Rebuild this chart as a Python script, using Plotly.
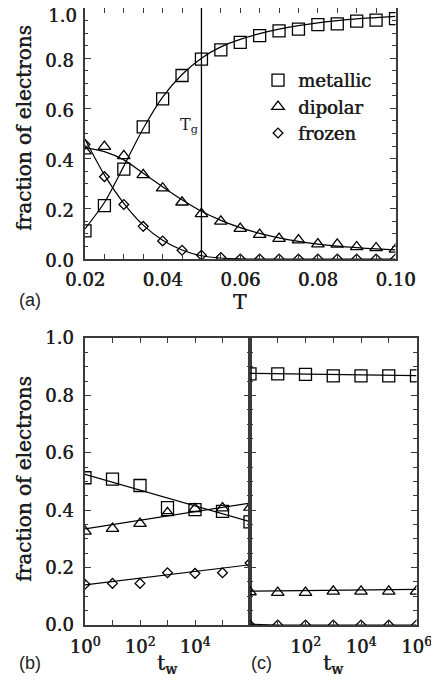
import plotly.graph_objects as go

# page body has an 8px default margin, so the figure is drawn 8px in from the top-left
OFF = 8
W, H = 439 - OFF, 685 - OFF

# ---------------- data: panel (a) ----------------
T = [0.020, 0.025, 0.030, 0.035, 0.040, 0.045, 0.050, 0.055, 0.060,
     0.065, 0.070, 0.075, 0.080, 0.085, 0.090, 0.095, 0.100]
metallic = [0.112, 0.213, 0.358, 0.526, 0.638, 0.731, 0.796, 0.833, 0.863,
            0.890, 0.909, 0.916, 0.934, 0.937, 0.948, 0.952, 0.958]
dipolar = [0.430, 0.448, 0.411, 0.335, 0.282, 0.226, 0.180, 0.150, 0.121,
           0.097, 0.081, 0.075, 0.059, 0.058, 0.048, 0.044, 0.038]
frozen = [0.457, 0.328, 0.217, 0.130, 0.072, 0.035, 0.015, 0.006, 0.0,
          0.0, 0.0, 0.0, 0.0, 0.0, 0.0, 0.0, 0.0]
metallic_fit = [0.120, 0.225, 0.370, 0.520, 0.645, 0.735, 0.800, 0.845, 0.875,
                0.898, 0.916, 0.930, 0.941, 0.950, 0.957, 0.962, 0.967]
dipolar_fit = [0.444, 0.428, 0.395, 0.342, 0.288, 0.236, 0.190, 0.154, 0.125,
               0.102, 0.084, 0.070, 0.059, 0.051, 0.045, 0.040, 0.036]
frozen_fit = [0.477, 0.335, 0.222, 0.135, 0.075, 0.036, 0.013, 0.004, 0.001,
              0.0, 0.0, 0.0, 0.0, 0.0, 0.0, 0.0, 0.0]
T_G = 0.05
TG_LABEL_Y = 0.53

# ---------------- data: panels (b), (c) ----------------
tw = [1, 10, 100, 1e3, 1e4, 1e5, 1e6]
b_metallic = [0.513, 0.508, 0.486, 0.409, 0.402, 0.396, 0.359]
b_dipolar = [0.326, 0.336, 0.353, 0.391, 0.405, 0.407, 0.409]
b_frozen = [0.142, 0.145, 0.145, 0.182, 0.180, 0.182, 0.216]
tw_fit = [1, 1e6]
b_metallic_fit = [0.525, 0.360]
b_dipolar_fit = [0.335, 0.425]
b_frozen_fit = [0.140, 0.210]

c_metallic = [0.875, 0.875, 0.873, 0.868, 0.868, 0.868, 0.868]
c_dipolar = [0.115, 0.113, 0.113, 0.117, 0.117, 0.117, 0.117]
c_frozen = [0.0, 0.0, 0.0, 0.0, 0.0, 0.0, 0.0]
c_metallic_fit = [0.877, 0.869]
c_dipolar_fit = [0.118, 0.124]
tw_fit_c_frozen = [1, 10, 1e6]
c_frozen_fit = [0.003, 0.0, 0.0]

names = ["metallic", "dipolar", "frozen"]
yticks = [0.0, 0.2, 0.4, 0.6, 0.8, 1.0]
ytick_text = ["0.0", "0.2", "0.4", "0.6", "0.8", "1.0"]
# top panel: the "1.0" label sits just below its tick so it stays on the page
ytick_text_a = ["0.0", "0.2", "0.4", "0.6", "0.8", ""]
YTOP_LABEL = 1.0
xticks_a = [0.02, 0.04, 0.06, 0.08, 0.10]
xtick_text_a = ["0.02", "0.04", "0.06", "0.08", "0.10"]
tw_ticks = [1, 10, 100, 1e3, 1e4, 1e5, 1e6]
tw_text_b = ["10<sup>0</sup>", "", "10<sup>2</sup>", "", "10<sup>4</sup>", "", ""]
tw_text_c = ["", "", "10<sup>2</sup>", "", "10<sup>4</sup>", "", "10<sup>6</sup>"]

# ---------------- style ----------------
SERIF = "DejaVu Serif"
SANS = "Liberation Sans"
AX = "#3a3a3a"
TXT = "#1e1e1e"
SHADOW = "0.6px 0px 0px #1e1e1e"
symbols = {"metallic": ("square-open", 12), "dipolar": ("triangle-up-open", 11),
           "frozen": ("diamond-open", 7.5)}


def px_x(p):
    return (p - OFF) / W


def px_y(p):
    return min(1.0, 1 - (p - OFF) / H)


fig = go.Figure()


def add_series(xa, ya, x, y, name, show):
    sym, size = symbols[name]
    fig.add_trace(go.Scatter(x=x, y=y, mode="markers", name=name, showlegend=show,
                             xaxis=xa, yaxis=ya,
                             marker=dict(symbol=sym, size=size, color="black",
                                         line=dict(color="black", width=1.3))))


def add_fit(xa, ya, x, y, spline=False):
    fig.add_trace(go.Scatter(x=x, y=y, mode="lines", showlegend=False,
                             xaxis=xa, yaxis=ya, hoverinfo="skip",
                             line=dict(color="black", width=1.2,
                                       shape="spline" if spline else "linear",
                                       smoothing=0.8 if spline else None)))


# panel (a)
add_fit("x", "y", T, metallic_fit, True)
add_fit("x", "y", T, dipolar_fit, True)
add_fit("x", "y", T, frozen_fit, True)
add_series("x", "y", T, metallic, "metallic", True)
add_series("x", "y", T, dipolar, "dipolar", True)
add_series("x", "y", T, frozen, "frozen", True)

# panel (b)
add_fit("x2", "y2", tw_fit, b_metallic_fit)
add_fit("x2", "y2", tw_fit, b_dipolar_fit)
add_fit("x2", "y2", tw_fit, b_frozen_fit)
add_series("x2", "y2", tw, b_metallic, "metallic", False)
add_series("x2", "y2", tw, b_dipolar, "dipolar", False)
add_series("x2", "y2", tw, b_frozen, "frozen", False)

# panel (c)
add_fit("x3", "y3", tw_fit, c_metallic_fit)
add_fit("x3", "y3", tw_fit, c_dipolar_fit)
add_fit("x3", "y3", tw_fit_c_frozen, c_frozen_fit)
add_series("x3", "y3", tw, c_metallic, "metallic", False)
add_series("x3", "y3", tw, c_dipolar, "dipolar", False)
add_series("x3", "y3", tw, c_frozen, "frozen", False)

tickfont = dict(family=SERIF, size=18, color=TXT, shadow=SHADOW)
common = dict(showline=True, linecolor=AX, linewidth=1.6, mirror="allticks",
              ticks="inside", tickcolor=AX, tickwidth=1.2, showgrid=False,
              zeroline=False, tickfont=tickfont, automargin=False,
              ticklabeloverflow="allow")
minor_y = dict(dtick=0.05, tick0=0.0, ticks="inside", ticklen=3.5,
               tickcolor=AX, tickwidth=1.2)

dom_top_y = [px_y(259), px_y(6)]
dom_bot_y = [px_y(625), px_y(338)]

fig.update_layout(
    width=W, height=H, margin=dict(l=0, r=0, t=0, b=0, autoexpand=False),
    plot_bgcolor="white", paper_bgcolor="white",
    showlegend=True,
    legend=dict(x=px_x(258), y=px_y(62), xanchor="left", yanchor="top",
                bgcolor="rgba(0,0,0,0)", borderwidth=0, tracegroupgap=0,
                font=dict(family=SERIF, size=18, color=TXT, shadow=SHADOW)),
    xaxis=dict(domain=[px_x(85), px_x(395.5)], range=[0.02, 0.10], anchor="y",
               tickvals=xticks_a, ticktext=xtick_text_a, ticklen=5,
               minor=dict(dtick=0.005, tick0=0.0, ticks="inside", ticklen=5,
                          tickcolor=AX, tickwidth=1.2),
               ticklabelstandoff=4, **common),
    yaxis=dict(domain=dom_top_y, range=[0, 1.0], anchor="x",
               tickvals=yticks, ticktext=ytick_text_a, ticklen=6,
               minor=minor_y, ticklabelstandoff=6, ticklabelshift=2, **common),
    xaxis2=dict(domain=[px_x(85), px_x(250)], type="log", range=[0, 6], anchor="y2",
                tickvals=tw_ticks, ticktext=tw_text_b, ticklen=5,
                ticklabelstandoff=5, **common),
    yaxis2=dict(domain=dom_bot_y, range=[0, 1.0], anchor="x2",
                tickvals=yticks, ticktext=ytick_text, ticklen=6,
                minor=minor_y, ticklabelstandoff=6, **common),
    xaxis3=dict(domain=[px_x(250), px_x(416.5)], type="log", range=[0, 6], anchor="y3",
                tickvals=tw_ticks, ticktext=tw_text_c, ticklen=5,
                ticklabelstandoff=5, **common),
    yaxis3=dict(domain=dom_bot_y, range=[0, 1.0], anchor="x3",
                tickvals=yticks, ticktext=ytick_text, ticklen=6, showticklabels=False,
                minor=minor_y, **common),
)

# "1.0" label of the top panel, nudged just below its tick
fig.add_annotation(xref="paper", yref="y", x=px_x(85), y=YTOP_LABEL,
                   text=ytick_text[-1], showarrow=False, xanchor="right",
                   yanchor="middle", xshift=-6, yshift=-7, font=tickfont)

# T_g vertical line
fig.add_shape(type="line", xref="x", yref="y", x0=T_G, x1=T_G, y0=0, y1=1,
              line=dict(color="black", width=1.3))
fig.add_annotation(xref="x", yref="y", x=T_G, y=TG_LABEL_Y, text="T<sub>g</sub>",
                   showarrow=False, xanchor="right", yanchor="middle", xshift=-1,
                   font=dict(family=SERIF, size=16, color=TXT))

title_font = dict(family=SERIF, size=20, color=TXT, shadow=SHADOW)
label_font = dict(family=SANS, size=18, color=TXT)


def ann(xp, yp, text, font, angle=0):
    fig.add_annotation(xref="paper", yref="paper", x=px_x(xp), y=px_y(yp), text=text,
                       showarrow=False, xanchor="center", yanchor="middle",
                       textangle=angle, font=font)


ann(24, 128, "fraction of electrons", title_font, -90)
ann(24, 479, "fraction of electrons", title_font, -90)
ann(240, 302, "T", title_font)
ann(30, 300, "(a)", label_font)
ann(167, 664, "t<sub>w</sub>", title_font)
ann(333, 664, "t<sub>w</sub>", title_font)
ann(30, 663, "(b)", label_font)
ann(262, 663, "(c)", label_font)

fig.write_html("out.html")
